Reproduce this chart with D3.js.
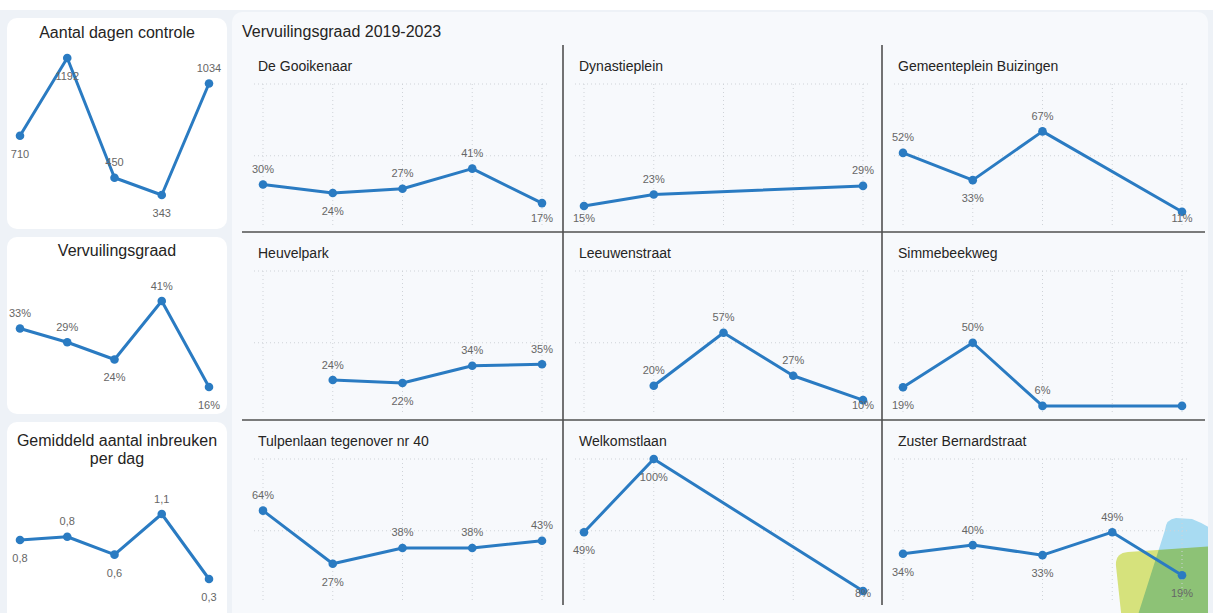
<!DOCTYPE html>
<html>
<head>
<meta charset="utf-8">
<script src="https://cdn.jsdelivr.net/npm/d3@7"></script>
<style>
  html, body { margin: 0; padding: 0; background: #fff; }
  svg { display: block; font-family: "Liberation Sans", Arial, sans-serif; }
</style>
</head>
<body>
<svg id="chart" width="1213" height="613"></svg>
<script>
const years = ["2019", "2020", "2021", "2022", "2023"];

// kaarten links
const dagenControle = [710, 1192, 450, 343, 1034];
const vervuilingTotaal = [33, 29, 24, 41, 16];
const inbreukenPerDag = [0.78, 0.82, 0.6, 1.1, 0.3];

// vervuilingsgraad per locatie (%), null = geen meting
const locaties = ["De Gooikenaar", "Dynastieplein", "Gemeenteplein Buizingen",
                  "Heuvelpark", "Leeuwenstraat", "Simmebeekweg",
                  "Tulpenlaan tegenover nr 40", "Welkomstlaan", "Zuster Bernardstraat"];
const gooikenaar    = [30, 24, 27, 41, 17];
const dynastieplein = [15, 23, null, null, 29];
const gemeenteplein = [52, 33, 67, null, 11];
const heuvelpark    = [null, 24, 22, 34, 35];
const leeuwenstraat = [null, 20, 57, 27, 10];
const simmebeekweg  = [19, 50, 6, null, 6];
const tulpenlaan    = [64, 27, 38, 38, 43];
const welkomstlaan  = [49, 100, null, null, 8];
const zusterBernard = [34, 40, 33, 49, 19];
const locatieWaarden = [gooikenaar, dynastieplein, gemeenteplein, heuvelpark, leeuwenstraat,
                        simmebeekweg, tulpenlaan, welkomstlaan, zusterBernard];
// labels die Power BI niet toonde
const verborgenLabels = [["Simmebeekweg", "2023"]];

const BLAUW = "#2a7bc2";
const W = 1213, H = 613;
const svg = d3.select("#chart");

// achtergrond
svg.append("rect").attr("width", W).attr("height", H).attr("fill", "#fff");
svg.append("rect").attr("y", 10).attr("width", W).attr("height", H - 10).attr("fill", "#eef2f7");

// hoofdpaneel
svg.append("rect").attr("x", 232).attr("y", 12).attr("width", 976).attr("height", 640)
  .attr("rx", 10).attr("fill", "#f7f9fc");

// decoratie rechtsonder (achter de grafieken)
svg.append("clipPath").attr("id", "paneelClip")
  .append("rect").attr("x", 232).attr("y", 12).attr("width", 976).attr("height", 640).attr("rx", 10);
const deco = svg.append("g").attr("clip-path", "url(#paneelClip)");
deco.append("path")
  .attr("d", "M1165,530 Q1166,519 1176,518 L1192,519 Q1205,524 1216,532 L1216,640 L1130,640 Z")
  .attr("fill", "#a8dbf2");
deco.append("path")
  .attr("d", "M1116,566 Q1115,553 1128,552 L1216,546 L1216,640 L1124,640 Z")
  .attr("fill", "#d6e27c").style("mix-blend-mode", "multiply");

const fmtInt = d => d3.format("d")(d);
const fmtPct = d => d3.format("d")(d) + "%";
const fmtKomma = d => d3.format(".1f")(d).replace(".", ",");

function lijn(g, values, x, y, fmt, titelBasis, labelMax, verborgen) {
  const pts = years.map((j, i) => ({ j, v: values[i] })).filter(d => d.v != null);
  g.append("path").datum(pts)
    .attr("fill", "none").attr("stroke", BLAUW).attr("stroke-width", 3)
    .attr("stroke-linejoin", "round")
    .attr("d", d3.line().x(d => x(d.j)).y(d => y(d.v)));
  g.selectAll(null).data(pts).join("circle")
    .attr("cx", d => x(d.j)).attr("cy", d => y(d.v)).attr("r", 4.3).attr("fill", BLAUW);

  pts.forEach((d, i) => {
    if (verborgen.includes(d.j)) return;
    const p = pts[i - 1], n = pts[i + 1];
    let onder;
    if (p && n) onder = d.v < p.v && d.v < n.v;
    else if (n) onder = n.v > d.v && d.j === years[0];
    else if (p) onder = p.v > d.v;
    else onder = false;
    const py = y(d.v);
    if (!onder && py - 20 < titelBasis + 4) onder = true;
    const ty = onder ? Math.min(py + 22, labelMax) : py - 11.5;
    g.append("text")
      .attr("x", x(d.j)).attr("y", ty)
      .attr("text-anchor", "middle").attr("font-size", 11).attr("fill", "#666")
      .text(fmt(d.v));
  });
}

// kaarten links
const kaarten = [
  { y: 18, h: 211, titel: ["Aantal dagen controle"], titelY: 20, plot: [40, 177], values: dagenControle, fmt: fmtInt },
  { y: 237, h: 177, titel: ["Vervuilingsgraad"], titelY: 19, plot: [64, 150], values: vervuilingTotaal, fmt: fmtPct },
  { y: 422, h: 220, titel: ["Gemiddeld aantal inbreuken", "per dag"], titelY: 24, plot: [92, 157], values: inbreukenPerDag, fmt: fmtKomma }
];
kaarten.forEach(k => {
  const kx = 7, kw = 220;
  const g = svg.append("g");
  g.append("rect").attr("x", kx).attr("y", k.y).attr("width", kw).attr("height", k.h)
    .attr("rx", 10).attr("fill", "#fff");
  k.titel.forEach((t, i) => {
    g.append("text").attr("x", kx + kw / 2).attr("y", k.y + k.titelY + i * 18)
      .attr("text-anchor", "middle").attr("font-size", 16).attr("fill", "#252423").text(t);
  });
  const x = d3.scalePoint().domain(years).range([kx + 13, kx + kw - 18]);
  const y = d3.scaleLinear().domain(d3.extent(k.values)).range([k.y + k.plot[1], k.y + k.plot[0]]);
  lijn(g, k.values, x, y, k.fmt, k.y + k.titelY + (k.titel.length - 1) * 18, k.y + k.h, []);
});

// hoofdtitel
svg.append("text").attr("x", 242).attr("y", 37).attr("font-size", 16).attr("fill", "#252423")
  .text("Vervuilingsgraad 2019-2023");

// kleine grafieken
const kolomLinks = [242, 563, 882];
const rijTop = [45, 232, 420];
locaties.forEach((naam, k) => {
  const left = kolomLinks[k % 3], top = rijTop[Math.floor(k / 3)];
  const g = svg.append("g");
  g.append("text").attr("x", left + 16).attr("y", top + 25.5)
    .attr("font-size", 14).attr("fill", "#252423").text(naam);

  const x = d3.scalePoint().domain(years).range([left + 21, left + 300]);
  const y = d3.scaleLinear().domain([0, 100]).range([top + 182.5, top + 39]);

  const grid = g.append("g").attr("stroke", "#cfd3d8").attr("stroke-width", 1)
    .attr("stroke-dasharray", "1,3");
  grid.selectAll(null).data([50, 100]).join("line")
    .attr("x1", left + 12).attr("x2", left + 306)
    .attr("y1", d => y(d)).attr("y2", d => y(d));
  grid.selectAll(null).data(years).join("line")
    .attr("x1", d => x(d)).attr("x2", d => x(d))
    .attr("y1", y(100)).attr("y2", y(0));

  const verborgen = verborgenLabels.filter(v => v[0] === naam).map(v => v[1]);
  lijn(g, locatieWaarden[k], x, y, fmtPct, top + 25.5, y(0) - 6, verborgen);
});

// scheidingslijnen
const sep = svg.append("g").attr("stroke", "#505050").attr("stroke-width", 1.6);
[563, 882].forEach(xx => sep.append("line").attr("x1", xx).attr("x2", xx).attr("y1", 45).attr("y2", 605));
[232, 420].forEach(yy => sep.append("line").attr("x1", 242).attr("x2", 1205).attr("y1", yy).attr("y2", yy));
</script>
</body>
</html>
